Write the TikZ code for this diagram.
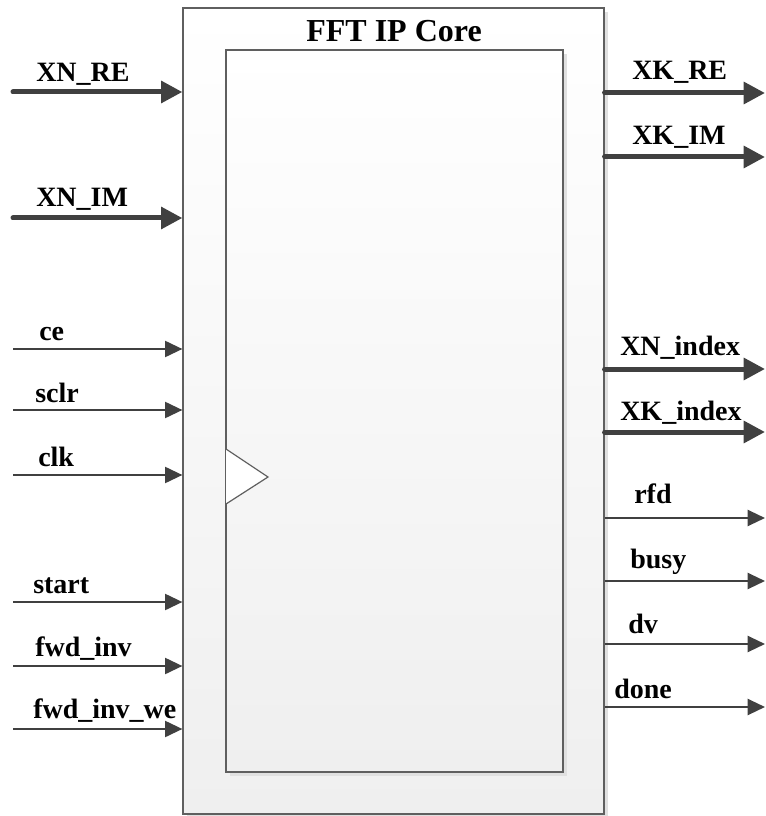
\documentclass[tikz,border=0pt]{standalone}
\usepackage{fontspec}
\setmainfont{Liberation Serif}
\usetikzlibrary{arrows.meta,shadows}
\definecolor{arrowgray}{HTML}{404040}
\definecolor{boxline}{HTML}{5F5F5F}
\definecolor{boxfill}{HTML}{EFEFEF}

\begin{document}
\begin{tikzpicture}[x=0.75pt,y=-0.75pt,
  bus/.style={line width=3.75pt,draw=arrowgray,line cap=round,-{Triangle[length=16pt,width=16pt]}},
  sig/.style={line width=1.6pt,draw=arrowgray,-{Triangle[length=13pt,width=12pt]}},
  lbl/.style={anchor=base west,inner sep=0pt,font=\fontsize{21}{24}\selectfont\bfseries},
  block/.style={draw=boxline,line width=0.9pt,inner sep=0pt,top color=white,bottom color=boxfill,
    drop shadow={shadow xshift=3pt,shadow yshift=-3pt,fill=black!12,opacity=1}}]
  \useasboundingbox (0,0) rectangle (765,816);

  % core block
  \node[block,minimum width=315.75pt,minimum height=604.5pt] (core) at (393.5,411) {};
  \node[block,minimum width=252.75pt,minimum height=541.5pt] (pane) at (394.5,411) {};
  \node[anchor=base,inner sep=0pt,font=\fontsize{24}{28}\selectfont\bfseries] (title) at (394,42) {FFT IP Core};
  \draw[boxline,line width=0.9pt,fill=white] (226,449) -- (268,477) -- (226,504);

  % inputs
  \coordinate (xnre) at (13,92);
  \draw[bus] (xnre) -- (xnre -| core.west);
  \node[lbl] (xnrelbl) at (36,82) {XN\_RE};
  \coordinate (xnim) at (13,218);
  \draw[bus] (xnim) -- (xnim -| core.west);
  \node[lbl] (xnimlbl) at (36,207) {XN\_IM};
  \coordinate (ce) at (13,349);
  \draw[sig] (ce) -- (ce -| core.west);
  \node[lbl] (celbl) at (39,340) {ce};
  \coordinate (sclr) at (13,410);
  \draw[sig] (sclr) -- (sclr -| core.west);
  \node[lbl] (sclrlbl) at (35,402) {sclr};
  \coordinate (clk) at (13,475);
  \draw[sig] (clk) -- (clk -| core.west);
  \node[lbl] (clklbl) at (38,466) {clk};
  \coordinate (start) at (13,602);
  \draw[sig] (start) -- (start -| core.west);
  \node[lbl] (startlbl) at (33,593) {start};
  \coordinate (fwdinv) at (13,666);
  \draw[sig] (fwdinv) -- (fwdinv -| core.west);
  \node[lbl] (fwdinvlbl) at (35,656) {fwd\_inv};
  \coordinate (fwdinvwe) at (13,729);
  \draw[sig] (fwdinvwe) -- (fwdinvwe -| core.west);
  \node[lbl] (fwdinvwelbl) at (33,718) {fwd\_inv\_we};

  % outputs
  \coordinate (xkre) at (765,93);
  \draw[bus] (xkre -| core.east) -- (xkre);
  \node[lbl] (xkrelbl) at (632,80) {XK\_RE};
  \coordinate (xkim) at (765,157);
  \draw[bus] (xkim -| core.east) -- (xkim);
  \node[lbl] (xkimlbl) at (632,145) {XK\_IM};
  \coordinate (xnidx) at (765,369);
  \draw[bus] (xnidx -| core.east) -- (xnidx);
  \node[lbl] (xnidxlbl) at (620,355) {XN\_index};
  \coordinate (xkidx) at (765,432);
  \draw[bus] (xkidx -| core.east) -- (xkidx);
  \node[lbl] (xkidxlbl) at (620,420) {XK\_index};
  \coordinate (rfd) at (765,518);
  \draw[sig] (rfd -| core.east) -- (rfd);
  \node[lbl] (rfdlbl) at (634,503) {rfd};
  \coordinate (busy) at (765,581);
  \draw[sig] (busy -| core.east) -- (busy);
  \node[lbl] (busylbl) at (630,568) {busy};
  \coordinate (dv) at (765,644);
  \draw[sig] (dv -| core.east) -- (dv);
  \node[lbl] (dvlbl) at (628,633) {dv};
  \coordinate (done) at (765,707);
  \draw[sig] (done -| core.east) -- (done);
  \node[lbl] (donelbl) at (614,698) {done};
\end{tikzpicture}
\end{document}
